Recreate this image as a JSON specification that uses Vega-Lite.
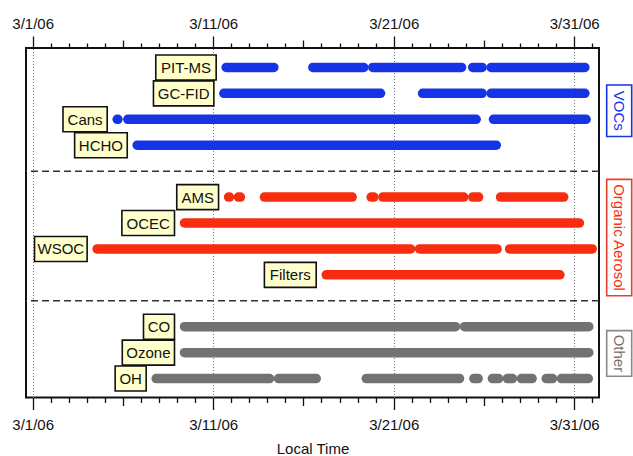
{
  "$schema": "https://vega.github.io/schema/vega-lite/v6.json",
  "width": 573,
  "height": 349.5,
  "autosize": "none",
  "padding": {"left": 26, "top": 48, "right": 34, "bottom": 58.5},
  "background": "white",
  "config": {"font": "Liberation Sans", "view": {"stroke": "#111", "strokeWidth": 2}},
  "data": {
    "format": {"parse": {"start": "date", "end": "date"}},
    "values": [
      {"group": "VOCs", "instrument": "PIT-MS", "row": 1, "start": "2006-03-11T17:15", "end": "2006-03-14T08:40"},
      {"group": "VOCs", "instrument": "PIT-MS", "row": 1, "start": "2006-03-16T12:30", "end": "2006-03-19T08:10"},
      {"group": "VOCs", "instrument": "PIT-MS", "row": 1, "start": "2006-03-19T20:10", "end": "2006-03-24T18:15"},
      {"group": "VOCs", "instrument": "PIT-MS", "row": 1, "start": "2006-03-25T09:05", "end": "2006-03-25T21:35"},
      {"group": "VOCs", "instrument": "PIT-MS", "row": 1, "start": "2006-03-26T09:35", "end": "2006-03-31T14:10"},
      {"group": "VOCs", "instrument": "GC-FID", "row": 2, "start": "2006-03-11T14:10", "end": "2006-03-20T06:30"},
      {"group": "VOCs", "instrument": "GC-FID", "row": 2, "start": "2006-03-22T14:25", "end": "2006-03-25T21:35"},
      {"group": "VOCs", "instrument": "GC-FID", "row": 2, "start": "2006-03-26T09:35", "end": "2006-03-31T14:10"},
      {"group": "VOCs", "instrument": "Cans", "row": 3, "start": "2006-03-05T16:20", "end": "2006-03-05T17:20"},
      {"group": "VOCs", "instrument": "Cans", "row": 3, "start": "2006-03-06T06:30", "end": "2006-03-25T13:40"},
      {"group": "VOCs", "instrument": "Cans", "row": 3, "start": "2006-03-26T12:45", "end": "2006-03-31T15:50"},
      {"group": "VOCs", "instrument": "HCHO", "row": 4, "start": "2006-03-06T19:00", "end": "2006-03-26T16:20"},
      {"group": "Organic Aerosol", "instrument": "AMS", "row": 6, "start": "2006-03-11T20:25", "end": "2006-03-11T21:35"},
      {"group": "Organic Aerosol", "instrument": "AMS", "row": 6, "start": "2006-03-12T09:35", "end": "2006-03-12T12:15"},
      {"group": "Organic Aerosol", "instrument": "AMS", "row": 6, "start": "2006-03-13T20:10", "end": "2006-03-18T16:50"},
      {"group": "Organic Aerosol", "instrument": "AMS", "row": 6, "start": "2006-03-19T18:00", "end": "2006-03-19T21:35"},
      {"group": "Organic Aerosol", "instrument": "AMS", "row": 6, "start": "2006-03-20T09:35", "end": "2006-03-24T21:05"},
      {"group": "Organic Aerosol", "instrument": "AMS", "row": 6, "start": "2006-03-25T09:05", "end": "2006-03-25T17:00"},
      {"group": "Organic Aerosol", "instrument": "AMS", "row": 6, "start": "2006-03-26T22:05", "end": "2006-03-30T10:05"},
      {"group": "Organic Aerosol", "instrument": "OCEC", "row": 7, "start": "2006-03-09T09:50", "end": "2006-03-31T07:00"},
      {"group": "Organic Aerosol", "instrument": "WSOC", "row": 8, "start": "2006-03-04T13:40", "end": "2006-03-21T22:20"},
      {"group": "Organic Aerosol", "instrument": "WSOC", "row": 8, "start": "2006-03-22T10:20", "end": "2006-03-26T17:30"},
      {"group": "Organic Aerosol", "instrument": "WSOC", "row": 8, "start": "2006-03-27T10:05", "end": "2006-04-01T00:00"},
      {"group": "Organic Aerosol", "instrument": "Filters", "row": 9, "start": "2006-03-17T06:15", "end": "2006-03-30T05:00"},
      {"group": "Other", "instrument": "CO", "row": 11, "start": "2006-03-09T09:50", "end": "2006-03-24T10:05"},
      {"group": "Other", "instrument": "CO", "row": 11, "start": "2006-03-24T22:05", "end": "2006-03-31T19:25"},
      {"group": "Other", "instrument": "Ozone", "row": 12, "start": "2006-03-09T09:50", "end": "2006-03-31T19:25"},
      {"group": "Other", "instrument": "OH", "row": 13, "start": "2006-03-07T20:10", "end": "2006-03-14T02:55"},
      {"group": "Other", "instrument": "OH", "row": 13, "start": "2006-03-14T14:55", "end": "2006-03-16T17:00"},
      {"group": "Other", "instrument": "OH", "row": 13, "start": "2006-03-19T11:30", "end": "2006-03-24T15:35"},
      {"group": "Other", "instrument": "OH", "row": 13, "start": "2006-03-25T10:35", "end": "2006-03-25T16:20"},
      {"group": "Other", "instrument": "OH", "row": 13, "start": "2006-03-26T11:15", "end": "2006-03-26T19:25"},
      {"group": "Other", "instrument": "OH", "row": 13, "start": "2006-03-27T07:10", "end": "2006-03-27T13:55"},
      {"group": "Other", "instrument": "OH", "row": 13, "start": "2006-03-28T01:55", "end": "2006-03-28T16:05"},
      {"group": "Other", "instrument": "OH", "row": 13, "start": "2006-03-29T10:50", "end": "2006-03-29T19:10"},
      {"group": "Other", "instrument": "OH", "row": 13, "start": "2006-03-30T07:10", "end": "2006-03-31T18:45"}
    ]
  },
  "layer": [
    {
      "data": {"values": [{"sep": 5}, {"sep": 10}]},
      "mark": {"type": "rule", "color": "#333", "strokeWidth": 1.5, "strokeDash": [7, 4]},
      "encoding": {
        "y": {"field": "sep", "type": "quantitative", "scale": {"domain": [0.25, 13.73], "reverse": true, "nice": false, "zero": false}, "axis": null}
      }
    },
    {
      "mark": {"type": "rule", "strokeWidth": 9.5, "strokeCap": "round"},
      "encoding": {
        "x": {
          "field": "start", "type": "temporal",
          "scale": {"domain": [{"year": 2006, "month": 2, "date": 28, "hours": 15, "minutes": 5}, {"year": 2006, "month": 4, "date": 1, "hours": 9}], "nice": false},
          "axis": {
            "orient": "bottom", "domain": false,
            "tickCount": {"interval": "day", "step": 1},
            "tickSize": {"condition": [{"test": "month(datum.value)==2 && date(datum.value)%10==1", "value": 12}, {"test": "month(datum.value)==2 && date(datum.value)%10==6", "value": 8}], "value": 5},
            "tickColor": "#111", "tickWidth": 1.3,
            "labelExpr": "month(datum.value)==2 && date(datum.value)%10==1 ? timeFormat(datum.value, '%-m/%-d/%y') : ''",
            "labelOverlap": false, "labelFlush": false,
            "labelFontSize": 15, "labelColor": "#111", "labelPadding": 8,
            "grid": true, "gridColor": "#777", "gridDash": [1, 2], "gridWidth": 1,
            "gridOpacity": {"condition": {"test": "month(datum.value)==2 && date(datum.value)%10==1", "value": 1}, "value": 0},
            "title": "Local Time", "titleFontSize": 15, "titleFontWeight": "normal", "titleColor": "#111", "titlePadding": 9
          }
        },
        "x2": {"field": "end"},
        "y": {"field": "row", "type": "quantitative", "scale": {"domain": [0.25, 13.73], "reverse": true, "nice": false, "zero": false}, "axis": null},
        "color": {"field": "group", "type": "nominal", "scale": {"domain": ["VOCs", "Organic Aerosol", "Other"], "range": ["#1434E6", "#F82D0F", "#727272"]}, "legend": null}
      }
    },
    {
      "transform": [{"aggregate": [{"op": "min", "field": "start", "as": "first"}], "groupby": ["instrument", "row"]}],
      "mark": {
        "type": "rect", "fill": "#FFFFCC", "stroke": "#111", "strokeWidth": 1.6,
        "xOffset": {"expr": "-10-((10.8*length(replace(datum.instrument,regexp('[^A-HJ-Z]','g'),''))+3.9*length(replace(datum.instrument,regexp('[^Iiltrf-]','g'),''))+8*length(replace(datum.instrument,regexp('[^a-eghjkm-qsu-z]','g'),''))+4.2*length(replace(datum.instrument,regexp('[^ ]','g'),'')))+9.4)"},
        "x2Offset": -10, "yOffset": -12.5, "y2Offset": 12.5
      },
      "encoding": {
        "x": {"field": "first", "type": "temporal", "axis": null},
        "x2": {"field": "first"},
        "y": {"field": "row", "type": "quantitative", "scale": {"domain": [0.25, 13.73], "reverse": true, "nice": false, "zero": false}, "axis": null},
        "y2": {"field": "row"}
      }
    },
    {
      "transform": [{"aggregate": [{"op": "min", "field": "start", "as": "first"}], "groupby": ["instrument", "row"]}],
      "mark": {
        "type": "text", "fontSize": 15, "color": "#111", "align": "center", "baseline": "middle", "dy": 0.5,
        "dx": {"expr": "-10-((10.8*length(replace(datum.instrument,regexp('[^A-HJ-Z]','g'),''))+3.9*length(replace(datum.instrument,regexp('[^Iiltrf-]','g'),''))+8*length(replace(datum.instrument,regexp('[^a-eghjkm-qsu-z]','g'),''))+4.2*length(replace(datum.instrument,regexp('[^ ]','g'),'')))+9.4)/2"}
      },
      "encoding": {
        "x": {
          "field": "first", "type": "temporal",
          "axis": {
            "orient": "top", "domain": false,
            "tickCount": {"interval": "day", "step": 1},
            "tickSize": {"condition": [{"test": "month(datum.value)==2 && date(datum.value)%10==1", "value": 12}, {"test": "month(datum.value)==2 && date(datum.value)%10==6", "value": 8}], "value": 5},
            "tickColor": "#111", "tickWidth": 1.3,
            "labelExpr": "month(datum.value)==2 && date(datum.value)%10==1 ? timeFormat(datum.value, '%-m/%-d/%y') : ''",
            "labelOverlap": false, "labelFlush": false,
            "labelFontSize": 15, "labelColor": "#111", "labelPadding": 5,
            "grid": false, "title": null
          }
        },
        "y": {"field": "row", "type": "quantitative", "scale": {"domain": [0.25, 13.73], "reverse": true, "nice": false, "zero": false}, "axis": null},
        "text": {"field": "instrument"}
      }
    },
    {
      "data": {"values": [{"group": "VOCs", "row": 2.67}, {"group": "Organic Aerosol", "row": 7.56}, {"group": "Other", "row": 12.03}]},
      "mark": {
        "type": "rect", "fill": "white", "strokeWidth": 1.6, "xOffset": 7.7, "x2Offset": 32.7,
        "yOffset": {"expr": "-((10.8*length(replace(datum.group,regexp('[^A-HJ-Z]','g'),''))+3.9*length(replace(datum.group,regexp('[^Iiltrf-]','g'),''))+8*length(replace(datum.group,regexp('[^a-eghjkm-qsu-z]','g'),''))+4.2*length(replace(datum.group,regexp('[^ ]','g'),'')))+11)/2"},
        "y2Offset": {"expr": "((10.8*length(replace(datum.group,regexp('[^A-HJ-Z]','g'),''))+3.9*length(replace(datum.group,regexp('[^Iiltrf-]','g'),''))+8*length(replace(datum.group,regexp('[^a-eghjkm-qsu-z]','g'),''))+4.2*length(replace(datum.group,regexp('[^ ]','g'),'')))+11)/2"}
      },
      "encoding": {
        "x": {"value": "width"},
        "x2": {"value": "width"},
        "y": {"field": "row", "type": "quantitative", "scale": {"domain": [0.25, 13.73], "reverse": true, "nice": false, "zero": false}, "axis": null},
        "y2": {"field": "row"},
        "stroke": {"field": "group", "type": "nominal", "scale": {"domain": ["VOCs", "Organic Aerosol", "Other"], "range": ["#1434E6", "#E8412E", "#8A8A8A"]}, "legend": null}
      }
    },
    {
      "data": {"values": [{"group": "VOCs", "row": 2.67}, {"group": "Organic Aerosol", "row": 7.56}, {"group": "Other", "row": 12.03}]},
      "mark": {"type": "text", "angle": 90, "fontSize": 15, "align": "center", "baseline": "middle", "xOffset": 20.2},
      "encoding": {
        "x": {"value": "width"},
        "y": {"field": "row", "type": "quantitative", "scale": {"domain": [0.25, 13.73], "reverse": true, "nice": false, "zero": false}, "axis": null},
        "text": {"field": "group"},
        "color": {"field": "group", "type": "nominal", "scale": {"domain": ["VOCs", "Organic Aerosol", "Other"], "range": ["#1434E6", "#F82D0F", "#727272"]}, "legend": null}
      }
    }
  ],
  "resolve": {"axis": {"x": "independent"}}
}
